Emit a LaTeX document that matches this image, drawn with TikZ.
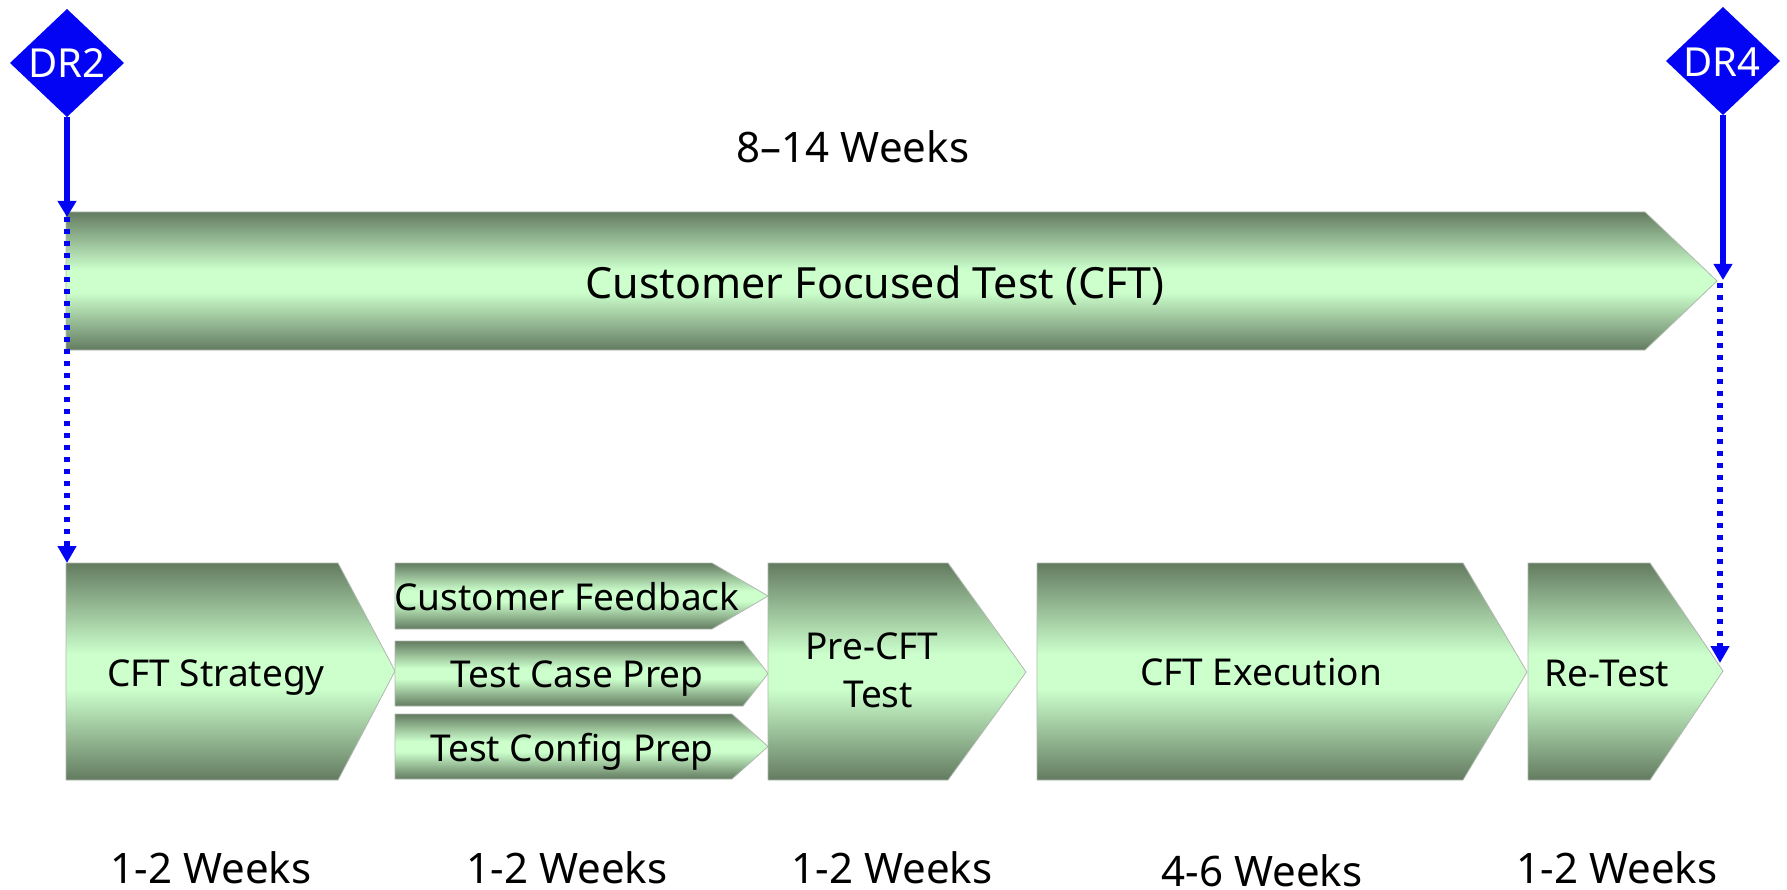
\documentclass[tikz,border=0pt]{standalone}
\usepackage{fontspec}
\setmainfont{Noto Sans}
\usetikzlibrary{arrows.meta}
\definecolor{shdark}{RGB}{99,123,96}
\definecolor{shlight}{RGB}{204,255,204}
\definecolor{mblue}{RGB}{4,4,245}
\definecolor{edgegray}{RGB}{175,185,175}
\pgfdeclareverticalshading{cftshade}{100bp}{color(0bp)=(shdark); color(25bp)=(shdark); color(46bp)=(shlight); color(54bp)=(shlight); color(75bp)=(shdark); color(100bp)=(shdark)}
\tikzset{
  phase/.style={shading=cftshade, draw=edgegray, line width=0.8pt},
  lbl/.style={anchor=base, inner sep=0pt, font=\fontsize{37}{44}\selectfont},
  wk/.style={anchor=base, inner sep=0pt, font=\fontsize{42}{50}\selectfont},
  drtxt/.style={anchor=base, inner sep=0pt, text=white, font=\fontsize{40}{48}\selectfont},
  solidarr/.style={draw=mblue, line width=6pt, -{Triangle[width=18pt,length=16pt]}},
  dotarr/.style={draw=mblue, line width=6pt, dash pattern=on 5pt off 7pt, -{Triangle[width=18pt,length=17pt]}},
}
\begin{document}
\begin{tikzpicture}[x=1pt,y=-1pt]
\useasboundingbox (0,0) rectangle (1787,890);
% big arrow
\path[phase] (66,212) -- (1645,212) -- (1717,281) -- (1645,350) -- (66,350) -- cycle;
\node[anchor=base, inner sep=0pt, font=\fontsize{43}{50}\selectfont] (cft) at (875,299) {Customer Focused Test (CFT)};
\node[wk] (total) at (853,163) {8–14 Weeks};
% bottom phases
\path[phase] (66,563) -- (338,563) -- (395,671) -- (338,780) -- (66,780) -- cycle;
\path[phase] (395,563) -- (712,563) -- (768,596) -- (712,629) -- (395,629) -- cycle;
\path[phase] (395,641) -- (743,641) -- (768,673.5) -- (743,706) -- (395,706) -- cycle;
\path[phase] (395,714) -- (732,714) -- (768,746.5) -- (732,779) -- (395,779) -- cycle;
\path[phase] (768,563) -- (948,563) -- (1026,672) -- (948,780) -- (768,780) -- cycle;
\path[phase] (1037,563) -- (1463,563) -- (1527,672) -- (1463,780) -- (1037,780) -- cycle;
\path[phase] (1528,563) -- (1650,563) -- (1723,671) -- (1650,780) -- (1528,780) -- cycle;
\node[lbl] (strat) at (216,686) {CFT Strategy};
\node[lbl] (feed) at (567,610) {Customer Feedback};
\node[lbl] (tcase) at (577,687) {Test Case Prep};
\node[lbl] (tconf) at (572,761) {Test Config Prep};
\node[lbl] (pre1) at (872,659) {Pre-CFT};
\node[lbl] (pre2) at (878,707) {Test};
\node[lbl] (exec) at (1261,685) {CFT Execution};
\node[lbl] (retest) at (1607,686) {Re-Test};
% durations
\node[wk] (w1) at (211,883) {1-2 Weeks};
\node[wk] (w2) at (567,883) {1-2 Weeks};
\node[wk] (w3) at (892,883) {1-2 Weeks};
\node[wk] (w4) at (1262,886) {4-6 Weeks};
\node[wk] (w5) at (1617,883) {1-2 Weeks};
% milestones
\fill[mblue] (67,9) -- (124,63) -- (67,117) -- (10,63) -- cycle;
\fill[mblue] (1723,7) -- (1780,61) -- (1723,115) -- (1666,61) -- cycle;
\node[drtxt] (dr2) at (67,78) {DR2};
\node[drtxt] (dr4) at (1722,77) {DR4};
\coordinate (dr2b) at (67,117);
\coordinate (dr4b) at (1723,115);
\coordinate (cftnw) at (67,217);
\coordinate (cfttip) at (1723,280);
\coordinate (stratnw) at (67,563);
\coordinate (cfttipb) at (1720,283);
\coordinate (retip) at (1720,663);
\draw[solidarr] (dr2b) -- (cftnw);
\draw[dotarr] (cftnw) -- (stratnw);
\draw[solidarr] (dr4b) -- (cfttip);
\draw[dotarr] (cfttipb) -- (retip);
\end{tikzpicture}
\end{document}
